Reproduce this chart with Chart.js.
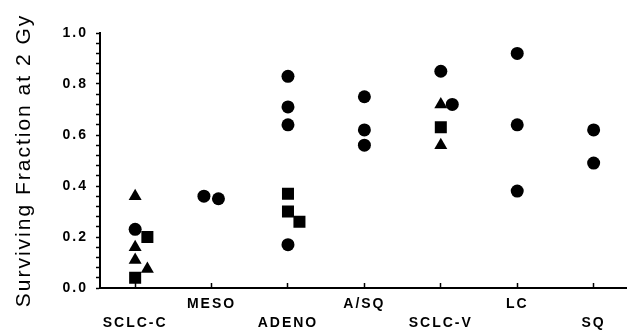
<!DOCTYPE html>
<html>
<head>
<meta charset="utf-8">
<script src="https://cdn.jsdelivr.net/npm/chart.js@4.4.1/dist/chart.umd.min.js"></script>
<style>
  html, body { margin: 0; background: #fff; }
  #wrap { width: 635px; height: 333px; }
</style>
</head>
<body>
<div id="wrap"><canvas id="myChart"></canvas></div>
<script>
var categories = ['SCLC-C', 'MESO', 'ADENO', 'A/SQ', 'SCLC-V', 'LC', 'SQ'];

// circles
var circleCat = ['SCLC-C', 'MESO', 'MESO', 'ADENO', 'ADENO', 'ADENO', 'ADENO', 'A/SQ', 'A/SQ', 'A/SQ', 'SCLC-V', 'SCLC-V', 'LC', 'LC', 'LC', 'SQ', 'SQ'];
var circleVal = [0.23, 0.36, 0.35, 0.83, 0.71, 0.64, 0.17, 0.75, 0.62, 0.56, 0.85, 0.72, 0.92, 0.64, 0.38, 0.62, 0.49];
var circleShift = [0, -0.1, 0.09, 0, 0, 0, 0, 0, 0, 0, 0, 0.15, 0, 0, 0, 0, 0];

// triangles
var triCat = ['SCLC-C', 'SCLC-C', 'SCLC-C', 'SCLC-C', 'SCLC-V', 'SCLC-V'];
var triVal = [0.36, 0.16, 0.11, 0.075, 0.72, 0.56];
var triShift = [0, 0, 0, 0.16, 0, 0];

// squares
var sqCat = ['SCLC-C', 'SCLC-C', 'ADENO', 'ADENO', 'ADENO', 'SCLC-V'];
var sqVal = [0.20, 0.04, 0.37, 0.30, 0.26, 0.63];
var sqShift = [0.16, 0, 0, 0, 0.15, 0];

function pts(cats, vals, shifts) {
  return cats.map(function (c, i) {
    return { x: categories.indexOf(c) + shifts[i], y: vals[i] };
  });
}

// the scanned figure has wide-set lettering
var spacing = {
  id: 'spacing',
  beforeUpdate: function (c) { c.ctx.letterSpacing = '2px'; },
  beforeDraw: function (c) { c.ctx.letterSpacing = '2px'; }
};

Chart.defaults.font.family = '"Liberation Sans", Arial, sans-serif';
Chart.defaults.color = '#000';

var ctx = document.getElementById('myChart').getContext('2d');
var myChart = new Chart(ctx, {
  type: 'scatter',
  plugins: [spacing],
  data: {
    datasets: [{
      label: 'circle',
      data: pts(circleCat, circleVal, circleShift),
      pointStyle: 'circle',
      pointRadius: 6.5,
      backgroundColor: '#000',
      borderColor: '#000',
      borderWidth: 0
    }, {
      label: 'triangle',
      data: pts(triCat, triVal, triShift),
      pointStyle: 'triangle',
      pointRadius: 7.5,
      backgroundColor: '#000',
      borderColor: '#000',
      borderWidth: 0
    }, {
      label: 'square',
      data: pts(sqCat, sqVal, sqShift),
      pointStyle: 'rect',
      pointRadius: 8.5,
      backgroundColor: '#000',
      borderColor: '#000',
      borderWidth: 0
    }]
  },
  options: {
    responsive: true,
    maintainAspectRatio: false,
    animation: false,
    layout: { padding: { left: 0, top: 33, right: 0, bottom: 0 } },
    plugins: {
      legend: { display: false },
      tooltip: { enabled: false }
    },
    scales: {
      x: {
        type: 'linear',
        min: -0.46,
        max: 6.43,
        afterBuildTicks: function (s) {
          s.ticks = categories.map(function (c, i) { return { value: i }; });
        },
        afterFit: function (s) { s.height = 45; },
        ticks: {
          autoSkip: false,
          maxRotation: 0,
          padding: 12,
          font: { size: 14, weight: 'bold', lineHeight: 1.35 },
          callback: function (v, i) {
            return i % 2 ? [categories[i], ''] : ['', categories[i]];
          }
        },
        grid: { drawOnChartArea: false, tickLength: -5, tickColor: '#000', tickWidth: 1.5 },
        border: { color: '#000', width: 2 }
      },
      y: {
        min: 0,
        max: 1,
        afterFit: function (s) { s.width = 100; },
        ticks: {
          stepSize: 0.04,
          autoSkip: false,
          padding: 8,
          font: { size: 14, weight: 'bold' },
          callback: function (v) {
            var k = v * 5;
            return Math.abs(k - Math.round(k)) < 1e-6 ? v.toFixed(1) : '';
          }
        },
        grid: { drawOnChartArea: false, tickLength: 4, tickColor: '#000', tickWidth: 1.5 },
        border: { color: '#000', width: 2 },
        title: {
          display: true,
          text: 'Surviving Fraction at 2 Gy',
          font: { size: 21 },
          padding: { top: 12, bottom: 0 }
        }
      }
    }
  }
});
</script>
</body>
</html>
